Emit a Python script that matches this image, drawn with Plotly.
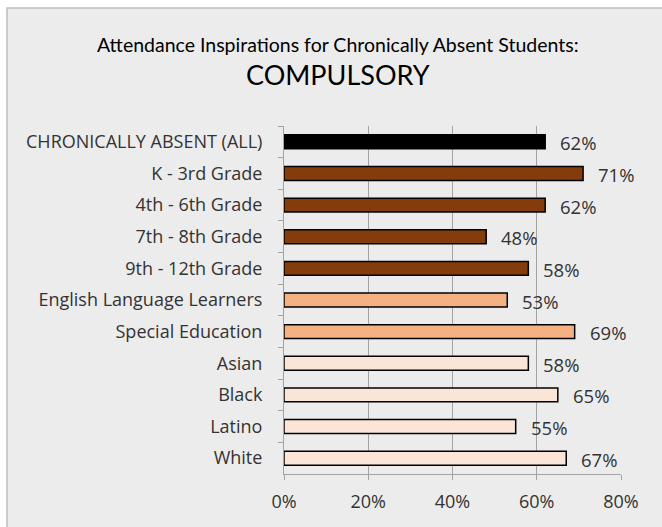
import plotly.graph_objects as go

categories = [
    "CHRONICALLY ABSENT (ALL)",
    "K - 3rd Grade",
    "4th - 6th Grade",
    "7th - 8th Grade",
    "9th - 12th Grade",
    "English Language Learners",
    "Special Education",
    "Asian",
    "Black",
    "Latino",
    "White",
]
values = [62, 71, 62, 48, 58, 53, 69, 58, 65, 55, 67]
bar_colors = [
    "#000000",
    "#843c0c", "#843c0c", "#843c0c", "#843c0c",
    "#f4b183", "#f4b183",
    "#fbe5d6", "#fbe5d6", "#fbe5d6", "#fbe5d6",
]
x_ticks = [0, 20, 40, 60, 80]
x_tick_labels = ["0%", "20%", "40%", "60%", "80%"]

label_font = dict(family="Open Sans", size=18, color="#333333")
grid_color = "#a3a3a3"

fig = go.Figure(
    go.Bar(
        y=categories,
        x=values,
        orientation="h",
        marker=dict(color=bar_colors, line=dict(color="#000000", width=1.5)),
        hoverinfo="skip",
    )
)

# value labels just past the end of each bar
for cat, v in zip(categories, values):
    fig.add_annotation(
        x=v, y=cat, xref="x", yref="y",
        text=f"{v}%", showarrow=False,
        xanchor="left", xshift=13, yshift=-1,
        font=dict(family="Open Sans", size=18.5, color="#333333"),
    )

# chart frame: grey panel with a thin border
fig.add_shape(
    type="rect", xref="paper", yref="paper",
    x0=(7 - 284) / 337, x1=(700 - 284) / 337,
    y0=(474 - 560) / 348, y1=(474 - 8) / 348,
    fillcolor="#ececec", line=dict(color="#bdbdbd", width=1.5),
    layer="below",
)

# two-line title
fig.add_annotation(
    x=(338 - 284) / 337, y=(474 - 44) / 348, xref="paper", yref="paper",
    text="Attendance Inspirations for Chronically Absent Students:",
    showarrow=False, xanchor="center", yanchor="middle",
    font=dict(family="Lato", size=19.5, color="#000000"),
)
fig.add_annotation(
    x=(338 - 284) / 337, y=(474 - 74) / 348, xref="paper", yref="paper",
    text="COMPULSORY",
    showarrow=False, xanchor="center", yanchor="middle",
    font=dict(family="Lato", size=27, color="#000000"),
)

fig.update_layout(
    width=662,
    height=527,
    margin=dict(l=284, r=41, t=126, b=53),
    paper_bgcolor="#ffffff",
    plot_bgcolor="#ffffff",
    bargap=0.56,
    showlegend=False,
    xaxis=dict(
        range=[0, 80],
        tickvals=x_ticks,
        ticktext=x_tick_labels,
        showgrid=True,
        gridcolor=grid_color,
        gridwidth=1,
        zeroline=False,
        showline=True,
        linecolor=grid_color,
        ticks="outside",
        ticklen=5,
        tickcolor=grid_color,
        tickfont=label_font,
        ticklabelstandoff=6,
        fixedrange=True,
    ),
    yaxis=dict(
        autorange="reversed",
        showgrid=False,
        zeroline=False,
        showline=True,
        linecolor=grid_color,
        ticks="outside",
        tickson="boundaries",
        ticklen=5,
        tickcolor=grid_color,
        tickfont=label_font,
        ticklabelstandoff=17,
        fixedrange=True,
    ),
)

fig.write_html("out.html", config={"displayModeBar": False})
